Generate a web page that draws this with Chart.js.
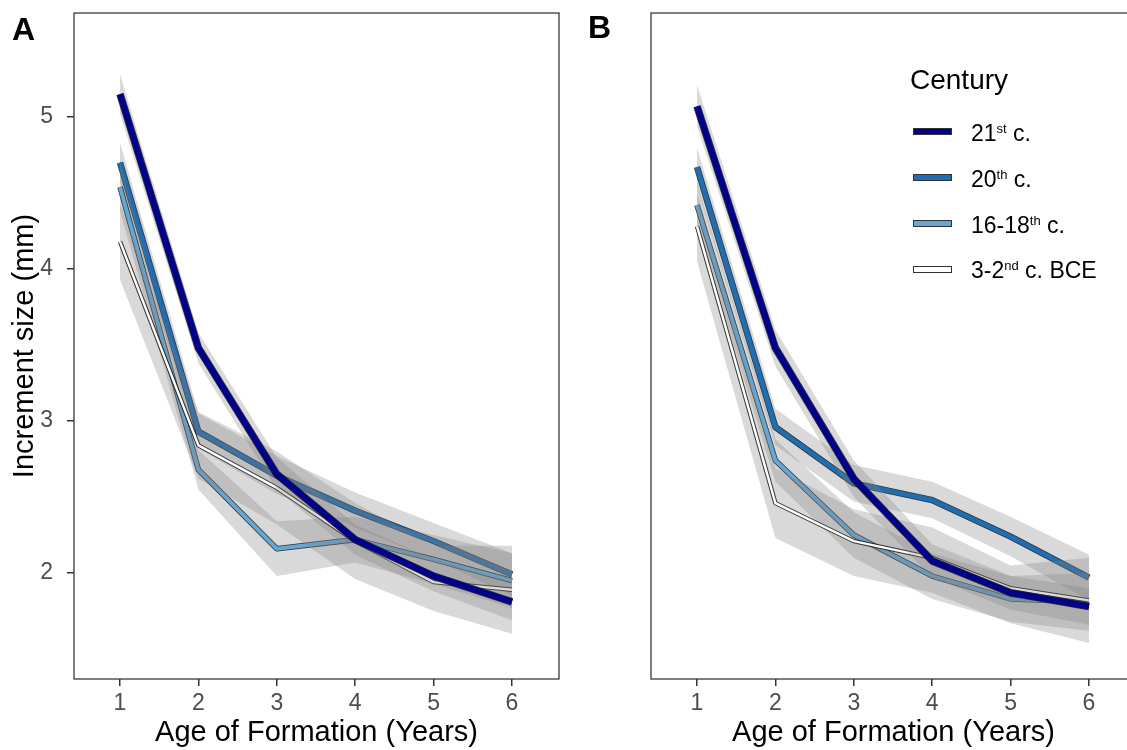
<!DOCTYPE html>
<html><head><meta charset="utf-8">
<script src="https://cdn.jsdelivr.net/npm/chart.js@4.4.1/dist/chart.umd.min.js"></script>
<style>
html,body{margin:0;padding:0;background:#fff;overflow:hidden;width:1127px;height:750px;}
#wrap{position:relative;width:1127px;height:750px;overflow:hidden;font-family:"Liberation Sans",Arial,sans-serif;}
canvas{position:absolute;top:0;}
#cA{left:0}
#cB{left:600px}
.panel{position:absolute;font-weight:bold;font-size:32px;line-height:1;color:#000}
.lt{position:absolute;line-height:1;color:#000;white-space:nowrap}
.lt sup{font-size:13px;line-height:0;vertical-align:8px}
.key{position:absolute;box-sizing:border-box;width:39px;height:7px;border:1px solid #333}
</style>
</head><body>
<div id="wrap">
<canvas id="cA" width="600" height="750"></canvas>
<canvas id="cB" width="536" height="750"></canvas>
<div class="panel" style="left:12px;top:13px">A</div>
<div class="panel" style="left:588px;top:11px">B</div>
<div id="legend"></div>
</div>
<script>
// ---- data ----
const ages = [1, 2, 3, 4, 5, 6];
const xTicks = [1, 2, 3, 4, 5, 6];
const yTicks = [2, 3, 4, 5];
const legendTitle = 'Century';
const legendBase = ['21', '20', '16-18', '3-2'];
const legendSup = ['st', 'th', 'th', 'nd'];
const legendTail = [' c.', ' c.', ' c.', ' c. BCE'];

// Panel A
const a21 = [5.15, 3.48, 2.65, 2.22, 1.98, 1.81];
const a21Lo = [5.02, 3.38, 2.55, 2.12, 1.88, 1.69];
const a21Hi = [5.28, 3.58, 2.76, 2.32, 2.09, 1.93];
const a20 = [4.70, 2.93, 2.64, 2.41, 2.21, 1.99];
const a20Lo = [4.58, 2.82, 2.52, 2.30, 2.09, 1.85];
const a20Hi = [4.83, 3.05, 2.77, 2.53, 2.33, 2.13];
const a16 = [4.54, 2.68, 2.16, 2.22, 2.09, 1.95];
const a16Lo = [4.38, 2.55, 1.98, 2.07, 1.93, 1.77];
const a16Hi = [4.70, 2.81, 2.34, 2.37, 2.25, 2.13];
const aBC = [4.18, 2.84, 2.56, 2.21, 1.94, 1.89];
const aBCLo = [3.93, 2.62, 2.32, 1.96, 1.75, 1.60];
const aBCHi = [4.43, 3.06, 2.80, 2.46, 2.18, 2.18];

// Panel B
const b21 = [5.07, 3.48, 2.62, 2.08, 1.87, 1.78];
const b21Lo = [4.94, 3.36, 2.50, 1.97, 1.76, 1.66];
const b21Hi = [5.21, 3.60, 2.74, 2.19, 1.98, 1.90];
const b20 = [4.67, 2.96, 2.59, 2.48, 2.24, 1.97];
const b20Lo = [4.54, 2.84, 2.47, 2.36, 2.11, 1.82];
const b20Hi = [4.80, 3.08, 2.71, 2.60, 2.37, 2.12];
const b16 = [4.42, 2.74, 2.25, 1.98, 1.83, 1.81];
const b16Lo = [4.28, 2.60, 2.10, 1.83, 1.68, 1.62];
const b16Hi = [4.56, 2.88, 2.40, 2.13, 1.98, 2.00];
const bBC = [4.28, 2.46, 2.21, 2.10, 1.90, 1.82];
const bBCLo = [4.05, 2.23, 1.98, 1.87, 1.67, 1.54];
const bBCHi = [4.51, 2.69, 2.42, 2.30, 2.05, 2.10];

// ---- styles ----
const colors = ['#00008B', '#1F6EB3', '#64A6D4', '#FFFFFF'];
const coreW = [6, 4.8, 4, 2.4];
const outW = [7.6, 6.4, 5.6, 4.4];
const ribbonFill = 'rgba(128,128,128,0.3)';
const outlineCol = 'rgba(25,25,25,0.85)';
const FONT = '"Liberation Sans", Arial, sans-serif';

function pts(arr) { return arr.map((v, i) => ({x: ages[i], y: v})); }

function series(ds, mean, lo, hi, idx, base) {
  const loIndex = ds.length;
  const common = {pointRadius: 0, pointHoverRadius: 0, tension: 0, borderJoinStyle: 'round', borderCapStyle: 'butt'};
  ds.push(Object.assign({data: pts(lo), borderColor: 'rgba(0,0,0,0)', borderWidth: 1, fill: false, order: base + 3}, common));
  ds.push(Object.assign({data: pts(hi), borderColor: 'rgba(0,0,0,0)', borderWidth: 1, fill: loIndex, backgroundColor: ribbonFill, order: base + 2}, common));
  ds.push(Object.assign({data: pts(mean), borderColor: outlineCol, borderWidth: outW[idx], fill: false, order: base + 1}, common));
  ds.push(Object.assign({data: pts(mean), borderColor: colors[idx], borderWidth: coreW[idx], fill: false, order: base}, common));
}

function buildDatasets(s21, s21Lo, s21Hi, s20, s20Lo, s20Hi, s16, s16Lo, s16Hi, sBC, sBCLo, sBCHi) {
  const ds = [];
  // drawing order bottom->top: 20th, 16-18th, BCE, 21st
  series(ds, s20, s20Lo, s20Hi, 1, 40);
  series(ds, s16, s16Lo, s16Hi, 2, 30);
  series(ds, sBC, sBCLo, sBCHi, 3, 20);
  series(ds, s21, s21Lo, s21Hi, 0, 10);
  return ds;
}

const boxPlugin = {
  id: 'box',
  afterDatasetsDraw(chart) {
    const {ctx, chartArea: a} = chart;
    ctx.save();
    ctx.strokeStyle = '#3a3a3a';
    ctx.lineWidth = 1.3;
    ctx.strokeRect(a.left, a.top, a.right - a.left, a.bottom - a.top);
    ctx.restore();
  }
};

const yMin = 1.303, yMax = 5.684;
const xMin = 0.413, xMax = 6.6;

function makeChart(id, ds, showY, yWidth, padRight) {
  const xs = {
    type: 'linear', min: xMin, max: xMax,
    afterBuildTicks(s) { s.ticks = xTicks.map(v => ({value: v})); },
    afterFit(s) { s.height = 71; s.paddingLeft = 0; s.paddingRight = 0; },
    grid: {display: true, drawOnChartArea: false, drawTicks: true, tickLength: 7, color: '#333', lineWidth: 1.5},
    border: {display: false},
    ticks: {color: '#4d4d4d', font: {family: FONT, size: 23}, padding: 4, maxRotation: 0, autoSkip: false},
    title: {display: true, text: 'Age of Formation (Years)', color: '#000', font: {family: FONT, size: 29, lineHeight: 1.2}, padding: {top: 0, bottom: 0}}
  };
  const ys = {
    type: 'linear', min: yMin, max: yMax, display: showY,
    afterBuildTicks(s) { s.ticks = yTicks.map(v => ({value: v})); },
    afterFit(s) { s.width = yWidth; s.paddingTop = 0; s.paddingBottom = 0; },
    grid: {display: true, drawOnChartArea: false, drawTicks: true, tickLength: 7, color: '#333', lineWidth: 1.5},
    border: {display: false},
    ticks: {color: '#4d4d4d', font: {family: FONT, size: 23}, padding: 14},
    title: {display: true, text: 'Increment size (mm)', color: '#000', font: {family: FONT, size: 29, lineHeight: 1.2}, padding: {top: 8, bottom: 0}}
  };
  return new Chart(document.getElementById(id), {
    type: 'line',
    data: {datasets: ds},
    options: {
      responsive: false, animation: false, devicePixelRatio: 1,
      layout: {padding: {top: 13, left: 0, right: padRight, bottom: 0}},
      plugins: {legend: {display: false}, tooltip: {enabled: false}, filler: {propagate: false}},
      events: [],
      scales: {x: xs, y: ys}
    },
    plugins: [boxPlugin]
  });
}

makeChart('cA', buildDatasets(a21, a21Lo, a21Hi, a20, a20Lo, a20Hi, a16, a16Lo, a16Hi, aBC, aBCLo, aBCHi), true, 74, 41);
makeChart('cB', buildDatasets(b21, b21Lo, b21Hi, b20, b20Lo, b20Hi, b16, b16Lo, b16Hi, bBC, bBCLo, bBCHi), false, 51, 0);

// ---- legend ----
const leg = document.getElementById('legend');
let html = '<div class="lt" style="left:910px;top:' + (90 - 0.8465 * 28) + 'px;font-size:28px">' + legendTitle + '</div>';
const baselines = [141, 187, 233, 278];
const keyCenters = [131, 177, 223.5, 269.5];
for (let i = 0; i < legendBase.length; i++) {
  html += '<div class="key" style="left:913px;top:' + (keyCenters[i] - 3.5) + 'px;background:' + colors[i] + '"></div>';
  html += '<div class="lt" style="left:971px;top:' + (baselines[i] - 0.8465 * 23) + 'px;font-size:23px">' +
    legendBase[i] + '<sup>' + legendSup[i] + '</sup>' + legendTail[i] + '</div>';
}
leg.innerHTML = html;
</script>
</body></html>
